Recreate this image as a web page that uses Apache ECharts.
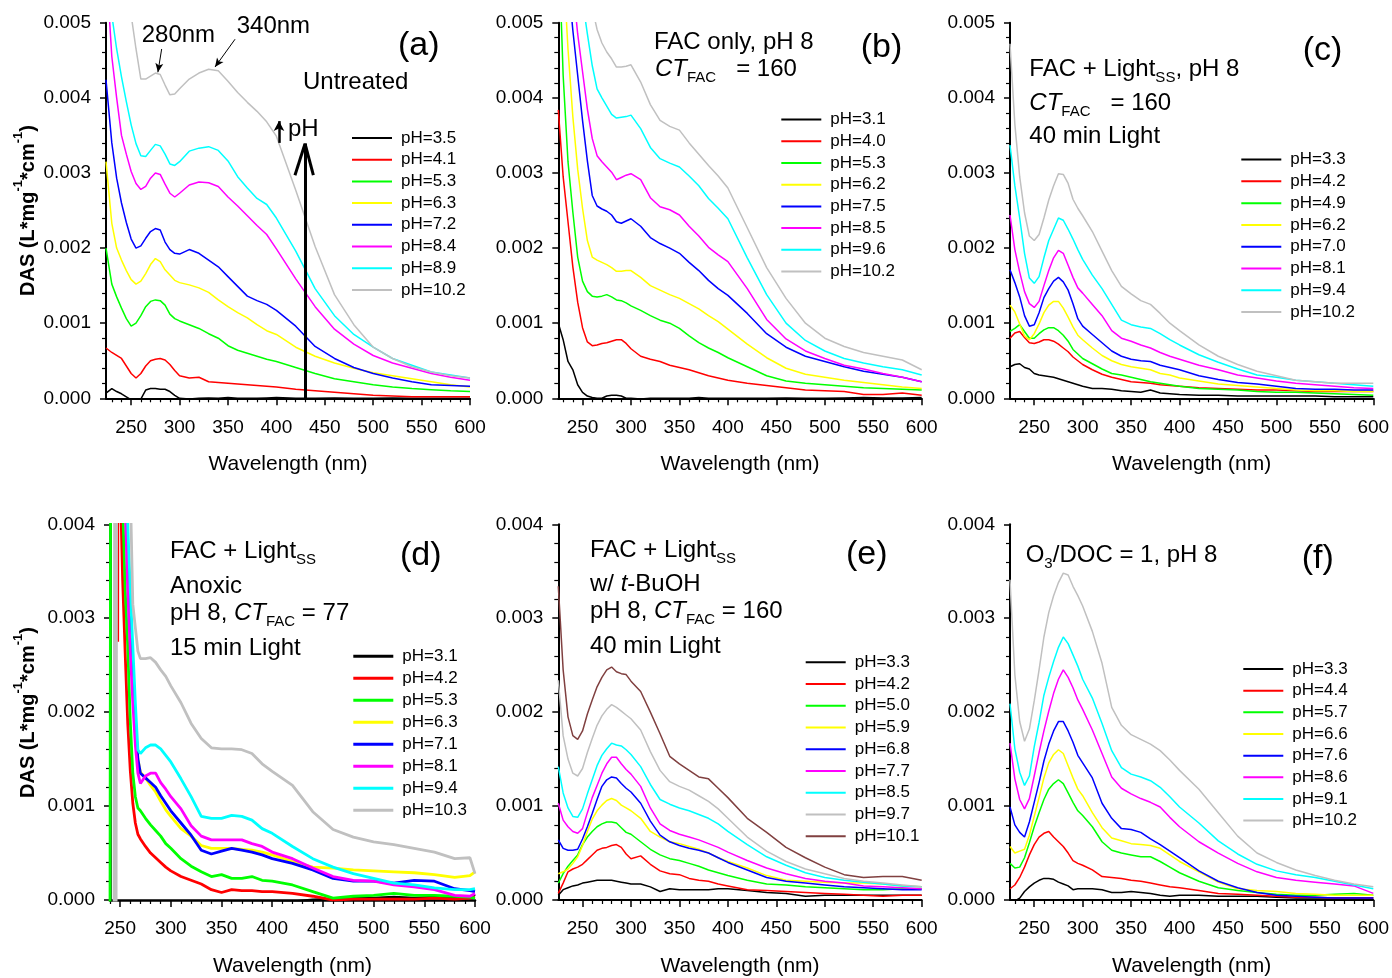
<!DOCTYPE html>
<html>
<head>
<meta charset="utf-8">
<script src="https://cdn.jsdelivr.net/npm/echarts@6/dist/echarts.min.js"></script>
<style>
html,body{margin:0;padding:0;background:#ffffff;}
#chart{width:1392px;height:978px;}
</style>
</head>
<body>
<div id="chart"></div>
<script>
// DAS values below are in units of 1e-4 L*mg^-1*cm^-1
const UNIT = 1e-4;

// wavelength grids (nm)
const WL   = [225,230,235,240,245,250,255,260,265,270,275,280,285,290,295,300,310,320,330,340,350,360,370,380,390,400,420,440,460,480,500,520,540,560,580,600];
const WL_A = [224,230,235,240,245,250,255,260,265,270,275,280,285,290,295,300,310,320,330,340,350,360,370,380,390,400,420,440,460,480,500,520,540,560,580,600];
const WL_D = [240,240.3,241,244,245,246,247,247.6,248.2,250,252.5,255,257.5,260,262.5,265,267.5,270,275,280,285,290,295,300,310,320,330,340,350,360,370,380,390,400,420,440,460,480,500,520,540,560,580,595,600];

const X_MAJOR = [250,300,350,400,450,500,550,600];
const X_MINOR = [230,240,260,270,280,290,310,320,330,340,360,370,380,390,410,420,430,440,460,470,480,490,510,520,530,540,560,570,580,590];

// legend labels
const LEG_A = ['pH=3.5','pH=4.1','pH=5.3','pH=6.3','pH=7.2','pH=8.4','pH=8.9','pH=10.2'];
const LEG_B = ['pH=3.1','pH=4.0','pH=5.3','pH=6.2','pH=7.5','pH=8.5','pH=9.6','pH=10.2'];
const LEG_C = ['pH=3.3','pH=4.2','pH=4.9','pH=6.2','pH=7.0','pH=8.1','pH=9.4','pH=10.2'];
const LEG_D = ['pH=3.1','pH=4.2','pH=5.3','pH=6.3','pH=7.1','pH=8.1','pH=9.4','pH=10.3'];
const LEG_E = ['pH=3.3','pH=4.2','pH=5.0','pH=5.9','pH=6.8','pH=7.7','pH=8.5','pH=9.7','pH=10.1'];
const LEG_F = ['pH=3.3','pH=4.4','pH=5.7','pH=6.6','pH=7.6','pH=8.6','pH=9.1','pH=10.2'];

// (a) Untreated
const A35  = [0.7,1.3,0.9,0.6,0.2,-0.2,-0.3,-0.1,1.1,1.3,1.3,1.2,1.2,0.9,0.4,0.0,-0.1,0.0,0.05,0.0,0.1,0.0,0.0,0.0,0.05,0.1,0.0,0.0,0.05,0.0,0.0,0.05,0.0,0.0,0.0,0.0];
const A41  = [6.7,6.1,5.7,5.3,4.3,3.3,2.7,3.3,4.3,5.0,5.2,5.3,5.1,4.5,3.7,3.0,2.7,2.8,2.2,2.1,2.0,1.9,1.8,1.7,1.6,1.5,1.2,1.0,0.8,0.6,0.4,0.3,0.2,0.2,0.2,0.2];
const A53  = [20.0,15.2,13.5,12.0,10.6,9.6,10.0,11.0,12.2,12.9,13.1,13.0,12.4,11.2,10.6,10.3,9.8,9.3,8.6,8.0,7.0,6.4,6.0,5.6,5.2,4.9,4.1,3.3,2.6,2.2,1.8,1.5,1.3,1.15,1.0,0.9];
const A63  = [31.5,23.3,20.0,18.4,17.0,15.8,15.2,15.6,16.6,17.8,18.6,18.2,17.1,16.4,15.7,15.4,15.1,14.7,14.1,13.1,12.2,11.4,10.7,9.8,9.0,8.5,6.8,5.6,4.7,4.0,3.4,3.0,2.6,2.2,1.8,1.5];
const A72  = [42.4,34.0,29.3,26.0,23.4,21.2,20.0,20.3,21.3,22.2,22.6,22.4,20.8,19.8,19.3,19.2,19.8,19.3,18.4,17.5,16.2,14.9,13.6,13.0,12.5,11.7,9.6,6.9,5.3,4.1,3.3,2.7,2.2,1.8,1.7,1.6];
const A84  = [58,45.5,40,35,32.5,30.2,28.6,27.8,28.2,29.3,30.0,29.8,28.5,27.3,26.8,27.3,28.4,28.8,28.7,28.2,26.8,25.6,24.3,23.0,21.8,19.9,15.9,12.2,9.2,7.2,5.7,4.7,4.0,3.3,2.8,2.4];
const A89  = [58,51,46.5,42.8,39.5,36.4,33.9,32.3,32.2,33.0,33.8,33.6,32.5,31.2,31.0,31.5,32.9,33.3,33.5,33.0,31.6,29.5,28.0,26.6,25.8,24.0,19.6,14.6,11.0,8.5,6.8,5.3,4.4,3.5,3.1,2.7];
const A102 = [90,75,66,60,55,51,46.5,42.5,42.5,42.9,43.3,43.1,41.7,40.4,40.5,41.2,42.5,43.3,43.8,43.6,42.2,40.7,39.4,38.2,36.8,34.9,27.7,20.2,13.8,9.8,6.8,5.3,4.2,3.5,3.0,2.7];

// (b) FAC only
const B31  = [10.0,7.8,4.9,3.8,1.8,0.8,0.3,0.1,0.0,0.0,0.3,0.4,0.4,0.3,0.0,0.0,-0.1,0.0,0.0,0.0,0.0,0.0,0.1,0.0,0.0,0.0,0.0,0.0,0.05,0.0,0.0,0.05,0.1,0.05,0.05,0.1];
const B40  = [38.4,29.5,23.5,17.5,12.8,9.4,7.5,7.0,7.1,7.3,7.4,7.6,7.8,7.8,7.3,6.6,5.6,5.2,4.9,4.4,4.1,3.8,3.4,3.0,2.7,2.4,2.0,1.7,1.4,1.1,1.0,0.9,0.5,0.5,0.7,0.4];
const B53  = [62,43,31.5,24.8,18.8,15.6,14.2,13.6,13.5,13.6,13.8,13.5,13.1,13.0,12.7,12.3,11.7,11.0,10.4,10.0,9.3,8.3,7.4,6.7,6.1,5.4,4.2,3.0,2.3,2.0,1.8,1.6,1.4,1.3,1.2,1.1];
const B62  = [70,58,46.5,37.5,30.5,25.3,21.0,18.8,18.4,18.1,17.8,17.4,16.9,16.9,17.0,17.0,16.1,15.0,14.4,13.8,13.3,12.6,11.9,11.0,10.2,9.2,7.2,5.4,4.0,3.2,2.8,2.4,2.1,1.8,1.5,1.3];
const B75  = [75,65,56,49,43,37,31.6,27.0,25.6,25.2,24.9,24.4,23.5,23.3,23.6,23.9,22.9,21.4,20.6,20.0,19.3,18.1,17.0,15.7,14.6,13.7,11.3,8.6,6.8,5.6,4.9,4.2,3.6,3.2,2.8,2.2];
const B85  = [80,70,62,55,48.5,43.5,38.5,34.6,32.3,31.5,30.8,30.1,29.1,29.4,29.7,29.9,29.1,26.7,25.5,25.1,24.4,22.9,21.6,20.1,19.1,18.2,14.6,10.5,7.9,6.3,5.3,4.4,3.9,3.3,2.8,2.2];
const B96  = [85,76,68,62,57,53,48.5,44.3,41.2,40.0,38.9,37.8,37.3,37.4,37.5,37.7,35.9,33.4,31.9,31.3,30.8,29.6,28.3,26.6,25.3,23.9,18.7,13.8,10.0,7.7,6.3,5.3,4.7,4.2,3.8,3.1];
const B102 = [95,88,80,74,67,61,56,52,49.1,47.3,46.1,45.2,44.1,44.1,44.2,44.4,42.1,39.1,37.0,36.2,35.7,34.0,32.5,31.0,29.6,28.0,22.7,17.4,13.3,10.0,8.0,6.9,6.1,5.6,5.1,3.8];

// (c) FAC + Light_SS
const C33  = [4.2,4.5,4.6,4.1,3.9,3.3,3.1,3.0,2.9,2.8,2.6,2.4,2.2,2.0,1.8,1.6,1.3,1.3,1.2,1.0,0.9,0.8,1.1,0.7,0.6,0.5,0.4,0.4,0.3,0.3,0.3,0.3,0.3,0.2,0.2,0.2];
const C42  = [8.0,8.7,8.9,8.1,7.4,7.3,7.5,7.8,7.8,7.6,7.2,6.7,6.2,5.5,5.0,4.5,3.8,3.2,2.8,2.5,2.2,2.1,2.0,1.8,1.7,1.6,1.4,1.3,1.2,1.1,1.1,1.0,0.9,0.9,0.9,0.9];
const C49  = [8.9,9.3,9.8,8.9,8.0,8.0,8.6,9.1,9.4,9.4,9.0,8.4,7.6,6.5,5.9,5.3,4.6,3.9,3.3,3.1,2.8,2.5,2.2,2.0,1.8,1.6,1.3,1.2,1.1,0.9,0.8,0.8,0.7,0.6,0.5,0.4];
const C62  = [12.4,11.5,9.9,8.3,7.8,8.6,9.9,11.4,12.4,12.9,12.9,12.0,10.8,9.5,8.4,7.8,6.7,5.7,5.0,4.5,4.2,4.0,3.8,3.3,3.1,2.7,2.3,1.9,1.7,1.5,1.3,1.1,1.0,1.0,0.9,0.9];
const C70  = [17.1,15.4,13.5,11.0,9.6,9.8,11.4,13.4,14.6,15.6,16.1,15.5,14.4,12.6,10.6,9.6,8.5,7.4,6.3,5.6,5.2,5.0,4.9,4.4,4.1,3.8,3.0,2.5,2.1,1.9,1.6,1.3,1.2,1.2,1.1,1.1];
const C81  = [24.4,19.8,16.8,14.2,12.6,12.1,12.9,15.0,17.0,18.7,19.7,19.3,17.7,16.1,14.7,14.0,12.5,11.0,9.0,8.0,7.6,7.1,6.7,6.1,5.6,5.2,4.4,3.8,3.1,2.7,2.3,2.0,1.8,1.6,1.4,1.3];
const C94  = [33.7,28.3,24.0,19.3,16.0,15.3,16.2,18.7,21.0,22.5,24.0,23.7,22.5,21.2,19.8,18.5,16.4,14.6,12.5,10.4,9.8,9.5,9.3,8.6,7.8,7.1,5.8,4.8,3.9,3.1,2.8,2.4,2.2,2.0,1.8,1.6];
const C102 = [47.2,36.5,29.5,24.7,21.6,21.0,21.8,24.0,26.4,28.3,29.9,29.8,28.6,26.5,25.3,24.3,22.2,19.6,17.0,14.9,13.9,13.0,12.5,11.3,10.0,9.0,7.1,5.6,4.5,3.6,3.0,2.4,2.2,2.0,2.0,2.0];

// (d) FAC + Light_SS, anoxic (null = no reading)
const N = null;
const D31  = [N,N,N,N,N,N,N,N,N,N,N,N,N,-1,-1,-1,-1,-1,-0.8,-0.8,-0.8,-0.8,-0.8,-0.8,-0.5,-0.5,-0.5,-0.5,-0.5,-0.3,-0.3,-0.3,-0.3,-0.3,-0.2,0.0,0.1,0.3,0.2,0.3,0.2,0.3,0.2,0.3,0.6];
const D42  = [N,N,N,N,N,N,N,27.5,80,45,34,26.2,18.8,13.8,10.3,8.2,7.0,6.5,5.7,5.0,4.5,4.0,3.5,3.1,2.5,2.1,1.7,1.1,0.8,1.1,1.0,1.0,0.9,0.9,0.7,0.4,0.0,0.1,0.1,0.1,0.1,0.2,0.1,0.2,0.3];
const D53  = [-2,23,80,80,80,80,80,80,80,80,42,33,27,19,13.5,11.0,9.8,9.5,8.7,8.0,7.4,6.8,6.0,5.5,4.4,3.6,3.0,2.5,2.7,2.3,2.3,2.5,2.1,2.0,1.6,0.9,0.2,0.4,0.5,0.7,0.5,0.5,0.4,0.3,0.2];
const D63  = [N,N,N,N,N,N,N,N,N,80,62,48,38,31,24,19,15,13.6,13.0,12.2,11.5,10.5,9.6,8.9,7.6,6.8,5.8,5.5,5.5,5.5,5.4,5.3,5.1,4.8,4.1,3.5,3.4,3.2,3.1,3.0,2.9,2.7,2.4,2.6,3.0];
const D71  = [N,N,N,N,N,N,N,N,N,80,60,45,37,30,24,19,15,13.5,13.0,12.5,12.0,11.1,10.3,9.5,8.2,6.9,5.3,4.9,5.2,5.5,5.3,5.1,4.8,4.4,3.9,3.2,2.3,2.0,2.0,1.8,2.1,2.0,1.2,1.0,0.9];
const D81  = [N,N,N,N,N,N,N,N,N,80,55,42,33,26.5,21,16.5,13.5,12.4,13.2,13.5,13.5,12.5,11.8,11.0,9.7,7.9,6.8,6.4,6.4,6.4,6.4,6.0,5.7,5.1,4.4,3.4,2.5,2.1,2.0,1.6,1.4,1.1,0.5,0.4,0.7];
const D94  = [N,N,N,N,N,N,N,N,N,80,70,52,40,33,27,21,16,15.6,16.2,16.5,16.5,16.1,15.4,14.7,12.9,11.0,8.9,8.7,8.7,9.0,8.9,8.5,7.6,7.1,5.7,4.4,3.5,2.8,2.3,1.8,1.6,1.3,1.1,1.1,1.2];
const D103 = [N,N,N,-2,80,-2,80,80,80,80,80,70,55,44,31.5,29,26.5,25.7,25.7,25.8,25.3,24.5,23.8,22.8,21.0,18.8,17.2,16.2,16.1,16.1,16.0,15.6,14.5,13.7,12.2,9.4,7.5,6.7,6.2,5.9,5.5,5.1,4.4,4.5,2.8];

// (e) FAC + Light_SS with t-BuOH
const E33  = [0.5,1.1,1.3,1.5,1.6,1.8,1.9,2.0,2.1,2.1,2.1,2.1,2.0,1.9,1.8,1.7,1.7,1.4,0.9,1.2,1.1,1.1,1.1,1.1,1.2,1.2,1.0,0.8,0.7,0.4,0.5,0.5,0.5,0.5,0.5,0.5];
const E42  = [0.7,1.8,3.0,3.3,3.5,3.8,4.3,4.8,5.3,5.5,5.6,5.8,5.9,5.6,4.9,4.4,4.7,3.8,3.1,2.8,2.7,2.3,2.1,2.0,1.7,1.5,1.1,1.0,0.9,0.8,0.7,0.6,0.5,0.4,0.5,0.5];
const E50  = [1.8,2.8,3.6,4.2,4.8,5.9,6.7,7.3,7.8,8.1,8.3,8.3,8.2,7.7,7.2,7.0,6.2,5.4,4.8,4.4,4.2,3.9,3.6,3.2,2.9,2.6,2.1,1.7,1.6,1.4,1.3,1.2,1.1,1.1,1.2,1.2];
const E59  = [2.8,3.0,3.3,3.9,4.6,5.8,7.3,8.6,9.5,10.1,10.6,10.8,10.6,10.1,9.8,9.5,8.7,7.3,6.7,6.2,6.0,5.7,5.4,5.0,4.5,4.1,3.4,2.6,2.1,2.0,1.9,1.8,1.8,1.7,1.5,1.4];
const E68  = [6.4,5.5,5.3,5.3,5.4,6.5,7.8,9.2,10.7,12.1,12.8,13.1,13.0,12.4,11.9,11.5,10.3,8.4,6.9,6.2,5.8,5.5,5.3,5.0,4.5,4.0,3.2,2.4,2.0,1.8,1.6,1.4,1.3,1.2,1.1,1.1];
const E77  = [10.3,8.5,7.8,7.3,7.1,7.6,9.3,10.9,12.2,13.5,14.5,15.2,15.2,14.5,13.9,13.4,12.1,9.8,8.1,7.4,7.0,6.7,6.4,6.0,5.6,5.1,4.2,3.4,2.8,2.3,2.0,1.8,1.5,1.4,1.3,1.2];
const E85  = [14.2,11.4,9.8,8.9,8.8,9.7,11.3,12.8,14.3,15.4,16.1,16.7,16.5,16.4,16.0,15.5,14.2,12.3,10.7,10.2,9.8,9.5,9.1,8.7,8.1,7.3,5.9,4.6,3.7,2.9,2.4,2.1,1.9,1.7,1.5,1.4];
const E97  = [23.4,17.5,15.0,13.5,13.2,14.0,15.7,17.2,18.6,19.6,20.3,20.8,20.5,20.1,19.7,19.3,18.1,15.8,13.8,12.6,12.1,11.7,11.1,10.5,9.7,8.7,6.7,5.2,4.1,3.3,2.8,2.3,2.0,1.8,1.6,1.4];
const E101 = [33.4,24.5,19.5,17.5,17.1,18.0,19.8,21.3,22.7,23.7,24.5,24.8,24.3,24.1,24.0,23.3,22.2,20.0,17.7,15.3,14.5,13.8,13.1,12.9,11.9,10.9,8.7,7.2,5.6,4.5,3.5,2.7,2.4,2.5,2.5,2.1];

// (f) O3/DOC = 1
const F33  = [-0.2,-0.1,0.2,0.9,1.4,1.8,2.1,2.3,2.3,2.2,1.9,1.7,1.5,1.1,1.2,1.2,1.2,1.1,0.8,0.8,0.9,0.8,0.7,0.5,0.4,0.5,0.5,0.4,0.4,0.4,0.3,0.2,0.2,0.2,0.2,0.2];
const F44  = [1.2,1.6,2.4,3.5,4.8,5.9,6.7,7.1,7.3,6.7,6.2,5.7,5.0,4.2,3.9,3.7,3.2,2.5,2.4,2.3,2.1,2.0,1.8,1.6,1.4,1.3,1.0,0.7,0.6,0.5,0.4,0.3,0.3,0.2,0.2,0.2];
const F57  = [3.9,3.4,3.5,4.5,6.1,7.8,9.3,10.7,11.8,12.4,12.8,12.4,11.4,10.4,9.5,9.0,7.8,6.2,5.3,5.0,4.8,4.6,4.6,4.1,3.5,2.9,2.0,1.3,1.0,0.8,0.6,0.5,0.5,0.6,0.7,0.5];
const F66  = [5.7,5.0,5.2,5.4,6.9,8.9,10.9,13.0,14.6,15.5,16.0,15.6,14.3,13.0,11.8,11.1,9.3,7.7,6.6,6.3,6.0,5.9,5.8,5.5,4.8,4.1,3.0,1.9,1.2,1.0,0.9,0.7,0.6,0.5,0.5,0.5];
const F76  = [9.9,8.0,7.2,6.7,8.3,10.4,12.5,14.8,16.6,18.0,19.0,19.0,18.0,16.8,15.4,14.6,13.0,10.3,8.7,7.6,7.5,7.2,6.5,5.9,5.2,4.5,3.1,2.0,1.3,0.8,0.5,0.4,0.3,0.2,0.2,0.2];
const F86  = [16.7,12.9,10.7,9.7,10.8,13.2,15.7,18.0,20.1,22.0,23.5,24.5,23.7,22.6,21.3,20.3,18.1,15.6,13.1,11.9,11.3,10.8,10.4,9.9,8.8,7.8,6.2,5.0,3.9,3.0,2.4,2.1,1.9,1.7,1.5,0.7];
const F91  = [20.9,16.1,13.6,12.2,13.2,16.3,18.9,21.8,23.7,25.4,26.9,28.0,27.3,26.1,24.9,23.5,21.5,18.8,15.9,14.1,13.4,13.1,12.7,12.0,11.0,9.9,8.2,6.3,4.9,3.8,3.1,2.7,2.4,2.0,1.6,1.2];
const F102 = [34.1,24.0,19.0,16.9,18.2,21.2,24.5,28.0,30.6,32.4,33.8,34.8,34.6,33.4,32.4,31.3,28.6,25.2,20.5,18.6,17.6,17.1,16.6,15.9,14.9,13.8,11.8,9.3,6.8,5.0,4.0,3.2,2.6,2.1,1.7,1.4];

// annotation arrows in panel (a), in data units (nm, 1e-4)
const ARROWS_A = [
  {from:[281.5,46.5], to:[277.6,43.4], width:1, head:[6,9]},
  {from:[357.3,47.8], to:[336.6,44.1], width:1, head:[6,9]},
  {from:[402.7,34.0], to:[402.7,36.9], width:2.5, head:[8,10]},
  {from:[429.6,0],    to:[429.6,33.9], width:3},
  {from:[419.2,29.7], to:[429.6,33.9], width:3},
  {from:[438.2,29.7], to:[429.6,33.9], width:3}
];

const FONT = '"Liberation Sans", Arial, Helvetica, sans-serif';
const COLORS = ['#000000','#ff0000','#00ff00','#ffff00','#0000ff','#ff00ff','#00ffff','#c0c0c0','#804040'];

const PANELS = [
  {id:'a', wl:WL_A, names:LEG_A, vals:[A35,A41,A53,A63,A72,A84,A89,A102]},
  {id:'b', wl:WL,   names:LEG_B, vals:[B31,B40,B53,B62,B75,B85,B96,B102]},
  {id:'c', wl:WL,   names:LEG_C, vals:[C33,C42,C49,C62,C70,C81,C94,C102]},
  {id:'d', wl:WL_D, names:LEG_D, vals:[D31,D42,D53,D63,D71,D81,D94,D103]},
  {id:'e', wl:WL,   names:LEG_E, vals:[E33,E42,E50,E59,E68,E77,E85,E97,E101]},
  {id:'f', wl:WL,   names:LEG_F, vals:[F33,F44,F57,F66,F76,F86,F91,F102]}
];

const LAYOUT = [
  {grid:{left:106,  top:22.7,  width:364,   height:375.6}, xmin:224, ymax:0.005, lw:1.5, legH:2,   axisW:2,   leg:{left:352,   top:128,   gap:1.7}},
  {grid:{left:558.3,top:22.7,  width:363.4, height:375.6}, xmin:225, ymax:0.005, lw:1.5, legH:2,   axisW:2,   leg:{left:781.3, top:109.6, gap:1.7}},
  {grid:{left:1010, top:22.7,  width:363.3, height:375.6}, xmin:225, ymax:0.005, lw:1.5, legH:2,   axisW:2,   leg:{left:1241.3,top:149.6, gap:1.77}},
  {grid:{left:110,  top:524.3, width:365,   height:375.7}, xmin:240, ymax:0.004, lw:2.8, legH:3,   axisW:2.5, leg:{left:353.3, top:646.3, gap:2}},
  {grid:{left:558.3,top:524.3, width:363.4, height:375.7}, xmin:225, ymax:0.004, lw:1.5, legH:2,   axisW:2,   leg:{left:805.7, top:652.3, gap:1.75}},
  {grid:{left:1010, top:524.3, width:363.3, height:375.7}, xmin:225, ymax:0.004, lw:1.5, legH:2,   axisW:2,   leg:{left:1243.3,top:659,   gap:1.66}}
];

function toData(wl, vals) {
  return wl.map((w, i) => [w, vals[i] == null ? null : +(vals[i] * UNIT).toPrecision(6)]);
}

const option = {
  animation: false,
  backgroundColor: '#ffffff',
  textStyle: {fontFamily: FONT},
  grid: [], xAxis: [], yAxis: [], series: [], legend: [], graphic: []
};

PANELS.forEach((p, i) => {
  const L = LAYOUT[i];
  option.grid.push(Object.assign({containLabel:false, outerBoundsMode:'none', show:false}, L.grid));
  option.xAxis.push({
    type:'value', gridIndex:i, position:'bottom', min:L.xmin, max:600,
    axisLine:{show:true, onZero:false, lineStyle:{color:'#000', width:L.axisW}},
    axisTick:{show:true, length:7, customValues:X_MAJOR, lineStyle:{color:'#000', width:1.5}},
    axisLabel:{show:true, customValues:X_MAJOR, fontSize:19, color:'#000', fontFamily:FONT, margin:19.5},
    splitLine:{show:false},
    name:'Wavelength (nm)', nameLocation:'middle', nameGap:55.5, nameMoveOverlap:false,
    nameTextStyle:{fontSize:21, color:'#000', fontFamily:FONT}
  });
  option.xAxis.push({
    type:'value', gridIndex:i, position:'bottom', min:L.xmin, max:600,
    axisLine:{show:false},
    axisTick:{show:true, length:4, customValues:X_MINOR, lineStyle:{color:'#000', width:1.2}},
    axisLabel:{show:false}, splitLine:{show:false}
  });
  option.yAxis.push({
    type:'value', gridIndex:i, position:'left', min:0, max:L.ymax, interval:0.001,
    axisLine:{show:true, onZero:false, lineStyle:{color:'#000', width:L.axisW}},
    axisTick:{show:true, length:6, lineStyle:{color:'#000', width:1.5}},
    minorTick:{show:true, splitNumber:5, length:4, lineStyle:{color:'#000', width:1.2}},
    axisLabel:{formatter:(v) => v.toFixed(3), fontSize:19, color:'#000', fontFamily:FONT, margin:15},
    splitLine:{show:false}, minorSplitLine:{show:false}
  });
  const names = [];
  p.vals.forEach((v, k) => {
    const nm = p.id + '|' + p.names[k];
    names.push(nm);
    const s = {
      type:'line', name:nm, xAxisIndex:2*i, yAxisIndex:i,
      data:toData(p.wl, v), symbol:'none', showSymbol:false, connectNulls:false,
      clip:true, silent:true,
      lineStyle:{color:COLORS[k], width:L.lw},
      itemStyle:{color:COLORS[k]},
      emphasis:{disabled:true}
    };
    if (p.id === 'a' && k === 0) {
      s.markLine = {
        silent:true, animation:false, label:{show:false}, emphasis:{disabled:true},
        symbol:['none','none'],
        lineStyle:{color:'#000', type:'solid', width:1},
        itemStyle:{color:'#000'},
        data: ARROWS_A.map(a => [
          {coord:[a.from[0], a.from[1]*UNIT], symbol:'none', lineStyle:{color:'#000', type:'solid', width:a.width}},
          {coord:[a.to[0], a.to[1]*UNIT], symbol:a.head ? 'arrow' : 'none', symbolSize:a.head || 1,
           itemStyle:{color:'#000'}, lineStyle:{color:'#000', type:'solid', width:a.width}}
        ])
      };
    }
    option.series.push(s);
  });
  option.legend.push({
    data:names, left:L.leg.left, top:L.leg.top, orient:'vertical', padding:0,
    itemWidth:40, itemHeight:L.legH, itemGap:L.leg.gap, icon:'rect', selectedMode:false,
    itemStyle:{borderWidth:0},
    formatter:(name) => name.split('|')[1],
    textStyle:{fontSize:17, fontFamily:FONT, color:'#000', lineHeight:20, padding:[0,0,0,4]}
  });
});

// text annotations
const RICH = {
  n:{fontSize:24, fontFamily:FONT, fill:'#000', lineHeight:32},
  i:{fontSize:24, fontFamily:FONT, fill:'#000', lineHeight:32, fontStyle:'italic'},
  s:{fontSize:15, fontFamily:FONT, fill:'#000', lineHeight:15, verticalAlign:'bottom'}
};
const TEXTS = [
  [141.7, 35,   '{n|280nm}'],
  [236.7, 26.7, '{n|340nm}'],
  [303,   82,   '{n|Untreated}'],
  [288,   129,  '{n|pH}'],
  [654,   42,   '{n|FAC only, pH 8}'],
  [655,   69.5, '{i|CT}{s|FAC}{n|   = 160}'],
  [1029.3,69.5, '{n|FAC + Light}{s|SS}{n|, pH 8}'],
  [1029.3,103.8,'{i|CT}{s|FAC}{n|   = 160}'],
  [1029.3,136.7,'{n|40 min Light}'],
  [170,   551.7,'{n|FAC + Light}{s|SS}'],
  [170,   586.7,'{n|Anoxic}'],
  [170,   613.8,'{n|pH 8, }{i|CT}{s|FAC}{n| = 77}'],
  [170,   648,  '{n|15 min Light}'],
  [590,   550,  '{n|FAC + Light}{s|SS}'],
  [590,   584.3,'{n|w/ }{i|t}{n|-BuOH}'],
  [590,   611.7,'{n|pH 8, }{i|CT}{s|FAC}{n| = 160}'],
  [590,   646.7,'{n|40 min Light}'],
  [1025.7,555,  '{n|O}{s|3}{n|/DOC = 1, pH 8}']
];
TEXTS.forEach(t => option.graphic.push({
  type:'text', x:t[0], y:t[1], silent:true, z:100,
  style:{text:t[2], rich:RICH, align:'left', verticalAlign:'middle'}
}));
const TAGS = [[398,46,'(a)'],[860.7,47.5,'(b)'],[1302.7,50.5,'(c)'],[400,555.5,'(d)'],[846,554.5,'(e)'],[1301.7,559,'(f)']];
TAGS.forEach(t => option.graphic.push({
  type:'text', x:t[0], y:t[1], silent:true, z:100,
  style:{text:t[2], fontSize:34, fontFamily:FONT, fill:'#000', align:'left', verticalAlign:'middle'}
}));
const YTITLE_RICH = {
  b:{fontSize:20, fontWeight:'bold', fontFamily:FONT, fill:'#000', lineHeight:32},
  p:{fontSize:13, fontWeight:'bold', fontFamily:FONT, fill:'#000', lineHeight:13, verticalAlign:'top'}
};
[[28,210.5],[28,712.5]].forEach(pos => option.graphic.push({
  type:'text', x:pos[0], y:pos[1], rotation:Math.PI/2, silent:true, z:100,
  style:{text:'{b|DAS (L*mg}{p|-1}{b|*cm}{p|-1}{b|)}', rich:YTITLE_RICH, align:'center', verticalAlign:'middle'}
}));

const chart = echarts.init(document.getElementById('chart'), null, {renderer:'canvas', width:1392, height:978});
chart.setOption(option);
</script>
</body>
</html>
